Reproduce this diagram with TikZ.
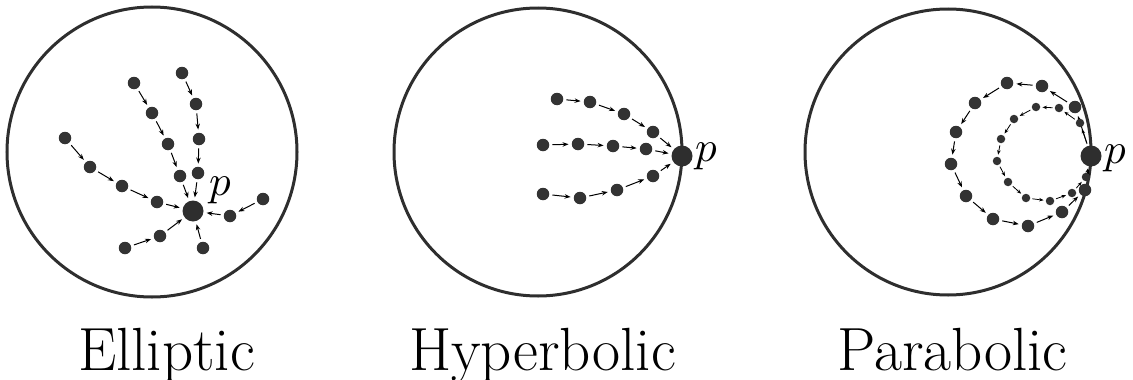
\documentclass[tikz,border=0pt]{standalone}
\usetikzlibrary{arrows.meta}
\definecolor{dotc}{HTML}{333333}
\definecolor{ringc}{HTML}{2E2E2E}
\begin{document}
\begin{tikzpicture}[x=1pt,y=-1pt,
  ring/.style={draw=ringc,line width=3pt},
  dotnode/.style={circle,fill=dotc,inner sep=0pt,minimum size=12.5pt},
  smalldot/.style={circle,fill=dotc,inner sep=0pt,minimum size=8.5pt},
  bigdot/.style={circle,fill=dotc!90!black,inner sep=0pt,minimum size=21pt},
  flow/.style={-{Stealth[length=6pt,width=4.5pt]},line width=1pt,black,shorten >=3pt,shorten <=3pt},
  flowsmall/.style={-{Stealth[length=4.5pt,width=3.5pt]},line width=0.8pt,black,shorten >=2pt,shorten <=2pt},
  title/.style={anchor=base,font=\fontsize{61}{70}\selectfont},
  plabel/.style={anchor=base,scale=4.3}]
\useasboundingbox (0,0) rectangle (1133,380);

% ---------------- Elliptic ----------------
\node[ring,circle,minimum size=290pt,inner sep=0pt] (c1) at (152,152) {};
\node[bigdot] (p1) at (193,211) {};
\node[plabel] (lp1) at (220,195) {$p$};
\node[dotnode] (a1) at (65,138) {};
\node[dotnode] (a2) at (90,167) {};
\node[dotnode] (a3) at (122,186) {};
\node[dotnode] (a4) at (157,202) {};
\node[dotnode] (b1) at (134,83) {};
\node[dotnode] (b2) at (152,113) {};
\node[dotnode] (b3) at (168,144) {};
\node[dotnode] (b4) at (180,176) {};
\node[dotnode] (d1) at (182,73) {};
\node[dotnode] (d2) at (196,104) {};
\node[dotnode] (d3) at (199,139) {};
\node[dotnode] (d4) at (198,173) {};
\node[dotnode] (e1) at (263,199) {};
\node[dotnode] (e2) at (230,216) {};
\node[dotnode] (f1) at (125,248) {};
\node[dotnode] (f2) at (160,236) {};
\node[dotnode] (g1) at (203,248) {};
\draw[flow] (a1) -- (a2); \draw[flow] (a2) -- (a3); \draw[flow] (a3) -- (a4); \draw[flow] (a4) -- (p1);
\draw[flow] (b1) -- (b2); \draw[flow] (b2) -- (b3); \draw[flow] (b3) -- (b4); \draw[flow] (b4) -- (p1);
\draw[flow] (d1) -- (d2); \draw[flow] (d2) -- (d3); \draw[flow] (d3) -- (d4); \draw[flow] (d4) -- (p1);
\draw[flow] (e1) -- (e2); \draw[flow] (e2) -- (p1);
\draw[flow] (f1) -- (f2); \draw[flow] (f2) -- (p1);
\draw[flow] (g1) -- (p1);
\node[title] (t1) at (166.5,370) {Elliptic};

% ---------------- Hyperbolic ----------------
\node[ring,circle,minimum size=288pt,inner sep=0pt] (c2) at (538,152) {};
\node[bigdot] (p2) at (682,156) {};
\node[plabel] (lp2) at (706,161) {$p$};
\node[dotnode] (h1) at (557,99) {};
\node[dotnode] (h2) at (590,102) {};
\node[dotnode] (h3) at (624,114) {};
\node[dotnode] (h4) at (653,132) {};
\node[dotnode] (m1) at (543,145) {};
\node[dotnode] (m2) at (578,144) {};
\node[dotnode] (m3) at (613,146) {};
\node[dotnode] (m4) at (646,149) {};
\node[dotnode] (k1) at (543,194) {};
\node[dotnode] (k2) at (580,198) {};
\node[dotnode] (k3) at (617,190) {};
\node[dotnode] (k4) at (653,176) {};
\draw[flow] (h1) -- (h2); \draw[flow] (h2) -- (h3); \draw[flow] (h3) -- (h4); \draw[flow] (h4) -- (p2);
\draw[flow] (m1) -- (m2); \draw[flow] (m2) -- (m3); \draw[flow] (m3) -- (m4); \draw[flow] (m4) -- (p2);
\draw[flow] (k1) -- (k2); \draw[flow] (k2) -- (k3); \draw[flow] (k3) -- (k4); \draw[flow] (k4) -- (p2);
\node[title] (t2) at (542.5,370) {Hyperbolic};

% ---------------- Parabolic ----------------
\node[ring,circle,minimum size=286pt,inner sep=0pt] (c3) at (948,152) {};
\node[bigdot] (p3) at (1091,156) {};
\node[plabel] (lp3) at (1115,163) {$p$};
\node[dotnode] (o1) at (1075,107) {};
\node[dotnode] (o2) at (1042,86) {};
\node[dotnode] (o3) at (1007,83) {};
\node[dotnode] (o4) at (975,103) {};
\node[dotnode] (o5) at (956,132) {};
\node[dotnode] (o6) at (951,164) {};
\node[dotnode] (o7) at (966,196) {};
\node[dotnode] (o8) at (993,219) {};
\node[dotnode] (o9) at (1028,226) {};
\node[dotnode] (o10) at (1062,212) {};
\node[dotnode] (o11) at (1085,190) {};
\draw[flow] (p3) -- (o1); \draw[flow] (o1) -- (o2); \draw[flow] (o2) -- (o3); \draw[flow] (o3) -- (o4);
\draw[flow] (o4) -- (o5); \draw[flow] (o5) -- (o6); \draw[flow] (o6) -- (o7); \draw[flow] (o7) -- (o8);
\draw[flow] (o8) -- (o9); \draw[flow] (o9) -- (o10); \draw[flow] (o10) -- (o11); \draw[flow] (o11) -- (p3);
\node[smalldot] (i1) at (1080,123) {};
\node[smalldot] (i2) at (1059,108) {};
\node[smalldot] (i3) at (1036,107) {};
\node[smalldot] (i4) at (1014,119) {};
\node[smalldot] (i5) at (1001,139) {};
\node[smalldot] (i6) at (997,161) {};
\node[smalldot] (i7) at (1008,182) {};
\node[smalldot] (i8) at (1026,198) {};
\node[smalldot] (i9) at (1050,201) {};
\node[smalldot] (i10) at (1072,193) {};
\node[smalldot] (i11) at (1086,177) {};
\draw[flowsmall] (p3) -- (i1); \draw[flowsmall] (i1) -- (i2); \draw[flowsmall] (i2) -- (i3); \draw[flowsmall] (i3) -- (i4);
\draw[flowsmall] (i4) -- (i5); \draw[flowsmall] (i5) -- (i6); \draw[flowsmall] (i6) -- (i7); \draw[flowsmall] (i7) -- (i8);
\draw[flowsmall] (i8) -- (i9); \draw[flowsmall] (i9) -- (i10); \draw[flowsmall] (i10) -- (i11); \draw[flowsmall] (i11) -- (p3);
\node[title] (t3) at (952.5,370) {Parabolic};
\end{tikzpicture}
\end{document}
